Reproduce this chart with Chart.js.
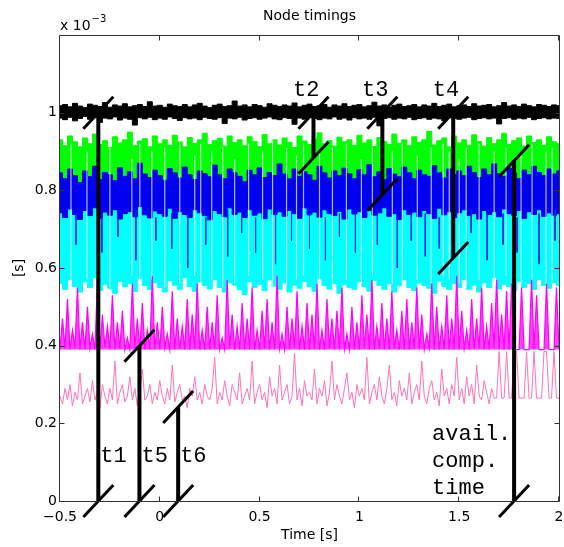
<!DOCTYPE html>
<html><head><meta charset="utf-8">
<script src="https://cdn.jsdelivr.net/npm/chart.js@4/dist/chart.umd.min.js"></script>
<style>html,body{margin:0;padding:0;background:#fff}canvas{display:block}</style>
</head><body>
<canvas id="c" width="564" height="547"></canvas>
<script>
// ---------- data (values in units of 1e-3 s) ----------
const T0 = -0.5;          // first sample time [s]
const DT_BAND = 0.025;    // sample spacing of band envelopes
const DT_LINE = 0.0125;   // sample spacing of the magenta / pink traces
const xTicks = [-0.5, 0, 0.5, 1, 1.5, 2];
const yTicks = [0, 0.2, 0.4, 0.6, 0.8, 1];

const blackHi = [1.018,1.021,1.015,1.024,1.017,1.013,1.022,1.019,1.016,1.026,
1.014,1.02,1.017,1.023,1.015,1.018,1.021,1.016,1.028,1.017,
1.019,1.014,1.022,1.018,1.016,1.021,1.015,1.02,1.024,1.017,
1.013,1.019,1.022,1.016,1.018,1.03,1.017,1.02,1.015,1.021,
1.018,1.014,1.023,1.019,1.016,1.02,1.017,1.025,1.015,1.019,
1.022,1.016,1.018,1.021,1.014,1.02,1.017,1.023,1.016,1.019,
1.021,1.015,1.018,1.027,1.017,1.02,1.014,1.019,1.022,1.016,
1.018,1.021,1.015,1.02,1.017,1.024,1.016,1.019,1.022,1.015,
1.018,1.02,1.016,1.023,1.017,1.019,1.021,1.015,1.018,1.026,
1.017,1.02,1.016,1.022,1.018,1.015,1.021,1.019,1.016,1.02,1.018];
const blackLo = [0.986,0.982,0.988,0.979,0.985,0.99,0.983,0.987,0.975,0.986,
0.984,0.989,0.981,0.986,0.983,0.968,0.987,0.984,0.988,0.982,
0.986,0.983,0.989,0.985,0.98,0.987,0.984,0.986,0.982,0.988,
0.985,0.983,0.987,0.972,0.986,0.984,0.988,0.981,0.985,0.987,
0.983,0.986,0.989,0.984,0.982,0.987,0.985,0.97,0.986,0.983,
0.988,0.985,0.982,0.986,0.984,0.989,0.983,0.986,0.981,0.987,
0.984,0.986,0.983,0.988,0.966,0.985,0.987,0.983,0.986,0.984,
0.988,0.982,0.985,0.987,0.983,0.986,0.984,0.979,0.987,0.985,
0.983,0.986,0.988,0.982,0.985,0.987,0.984,0.986,0.971,0.985,
0.987,0.983,0.986,0.984,0.988,0.982,0.985,0.987,0.984,0.986,0.985];
const greenHi = [0.93,0.915,0.94,0.925,0.912,0.935,0.92,0.945,0.918,0.928,
0.91,0.938,0.922,0.93,0.95,0.915,0.927,0.933,0.912,0.94,
0.92,0.93,0.916,0.942,0.925,0.912,0.936,0.921,0.93,0.947,
0.918,0.928,0.934,0.914,0.94,0.923,0.93,0.915,0.938,0.926,
0.912,0.944,0.92,0.93,0.917,0.935,0.924,0.91,0.94,0.927,
0.918,0.932,0.948,0.92,0.928,0.914,0.937,0.925,0.93,0.916,
0.942,0.922,0.93,0.913,0.936,0.926,0.918,0.945,0.921,0.93,
0.915,0.938,0.924,0.93,0.952,0.917,0.928,0.935,0.912,0.94,
0.922,0.93,0.916,0.943,0.926,0.914,0.936,0.92,0.93,0.947,
0.918,0.928,0.935,0.914,0.94,0.923,0.93,0.916,0.938,0.925,0.92];
const blueHi = [0.845,0.83,0.855,0.838,0.82,0.85,0.835,0.862,0.828,0.846,
0.84,0.825,0.858,0.836,0.848,0.83,0.87,0.842,0.833,0.852,
0.838,0.826,0.856,0.845,0.832,0.86,0.84,0.828,0.85,0.843,
0.835,0.865,0.84,0.83,0.855,0.845,0.836,0.822,0.852,0.84,
0.858,0.833,0.846,0.838,0.868,0.842,0.83,0.855,0.836,0.848,
0.84,0.826,0.862,0.845,0.832,0.85,0.838,0.857,0.843,0.83,
0.853,0.84,0.866,0.835,0.848,0.828,0.856,0.842,0.835,0.86,
0.845,0.83,0.852,0.84,0.836,0.864,0.845,0.832,0.855,0.84,
0.85,0.838,0.862,0.846,0.833,0.855,0.84,0.868,0.843,0.836,
0.857,0.845,0.83,0.852,0.84,0.862,0.846,0.838,0.855,0.842,0.85];
const blueLo = [0.742,0.73,0.752,0.738,0.725,0.748,0.735,0.755,0.728,0.744,
0.736,0.75,0.726,0.74,0.745,0.732,0.758,0.737,0.729,0.747,
0.74,0.733,0.754,0.728,0.745,0.738,0.73,0.75,0.742,0.735,
0.724,0.748,0.74,0.732,0.755,0.738,0.744,0.73,0.75,0.736,
0.742,0.727,0.752,0.738,0.745,0.733,0.748,0.74,0.728,0.755,
0.737,0.744,0.731,0.75,0.74,0.735,0.746,0.726,0.752,0.739,
0.745,0.73,0.748,0.736,0.742,0.755,0.733,0.74,0.725,0.75,
0.738,0.744,0.732,0.748,0.74,0.728,0.754,0.737,0.745,0.73,
0.742,0.75,0.735,0.74,0.726,0.748,0.738,0.745,0.732,0.752,
0.74,0.735,0.748,0.728,0.745,0.738,0.75,0.733,0.742,0.736,0.74];
const cyanLo = [0.56,0.545,0.57,0.552,0.538,0.565,0.55,0.575,0.542,0.558,
0.548,0.535,0.566,0.552,0.56,0.54,0.572,0.555,0.545,0.562,
0.55,0.538,0.568,0.556,0.545,0.575,0.552,0.54,0.564,0.555,
0.546,0.57,0.55,0.538,0.562,0.556,0.544,0.532,0.565,0.55,
0.558,0.542,0.57,0.553,0.545,0.562,0.538,0.556,0.548,0.566,
0.552,0.54,0.572,0.555,0.546,0.56,0.535,0.558,0.55,0.545,
0.565,0.552,0.54,0.568,0.555,0.545,0.56,0.538,0.554,0.57,
0.55,0.542,0.562,0.555,0.548,0.535,0.566,0.552,0.545,0.56,
0.55,0.57,0.545,0.556,0.538,0.562,0.55,0.575,0.546,0.558,
0.552,0.542,0.565,0.55,0.56,0.545,0.57,0.555,0.548,0.562,0.555];
const magenta = [0.39,0.47,0.392,0.52,0.39,0.44,0.395,0.55,0.39,0.46,0.39,0.5,0.393,0.43,0.39,0.57,0.39,0.48,0.396,0.45,
0.39,0.53,0.39,0.46,0.392,0.49,0.39,0.42,0.39,0.56,0.394,0.47,0.39,0.51,0.39,0.44,0.391,0.58,0.39,0.46,
0.39,0.5,0.395,0.43,0.39,0.54,0.39,0.47,0.392,0.45,0.39,0.52,0.39,0.48,0.393,0.56,0.39,0.44,0.39,0.5,
0.39,0.46,0.392,0.53,0.39,0.42,0.39,0.57,0.394,0.48,0.39,0.45,0.39,0.51,0.391,0.47,0.39,0.55,0.39,0.44,
0.39,0.49,0.393,0.52,0.39,0.46,0.39,0.58,0.392,0.43,0.39,0.5,0.39,0.47,0.395,0.54,0.39,0.45,0.39,0.51,
0.39,0.48,0.392,0.56,0.39,0.44,0.39,0.52,0.393,0.47,0.39,0.49,0.39,0.55,0.391,0.43,0.39,0.5,0.39,0.46,
0.39,0.53,0.394,0.48,0.39,0.57,0.39,0.45,0.392,0.51,0.39,0.47,0.39,0.54,0.393,0.44,0.39,0.49,0.39,0.52,
0.39,0.46,0.392,0.55,0.39,0.48,0.39,0.43,0.395,0.56,0.39,0.5,0.39,0.45,0.391,0.53,0.39,0.47,0.39,0.58,
0.39,0.49,0.393,0.44,0.39,0.52,0.39,0.47,0.392,0.55,0.39,0.45,0.39,0.51,0.394,0.57,0.39,0.48,0.39,0.54,
0.39,0.56,0.39,0.39,0.39,0.55,0.39,0.39,0.39,0.57,0.39,0.53,0.39,0.39,0.39,0.56,0.39,0.39,0.39,0.55,
0.39];
const pink = [0.27,0.25,0.29,0.26,0.3,0.245,0.28,0.26,0.33,0.25,0.27,0.29,0.255,0.31,0.26,0.28,0.24,0.3,0.27,0.25,
0.29,0.26,0.36,0.25,0.28,0.3,0.255,0.27,0.32,0.26,0.29,0.245,0.28,0.34,0.26,0.27,0.3,0.25,0.28,0.26,
0.31,0.27,0.25,0.29,0.26,0.35,0.255,0.28,0.3,0.26,0.27,0.24,0.29,0.27,0.32,0.26,0.28,0.25,0.3,0.27,
0.26,0.29,0.37,0.25,0.28,0.26,0.31,0.27,0.245,0.3,0.28,0.26,0.33,0.25,0.27,0.29,0.26,0.36,0.25,0.28,
0.3,0.26,0.28,0.24,0.32,0.27,0.29,0.25,0.35,0.26,0.28,0.3,0.25,0.27,0.38,0.26,0.29,0.245,0.31,0.27,
0.28,0.26,0.34,0.25,0.29,0.27,0.31,0.245,0.28,0.36,0.26,0.3,0.27,0.25,0.29,0.33,0.26,0.28,0.24,0.3,
0.27,0.29,0.26,0.37,0.25,0.28,0.3,0.26,0.32,0.27,0.25,0.29,0.35,0.26,0.28,0.245,0.31,0.27,0.29,0.26,
0.33,0.25,0.28,0.3,0.26,0.36,0.27,0.25,0.29,0.31,0.26,0.28,0.245,0.34,0.27,0.29,0.25,0.3,0.27,0.37,
0.26,0.29,0.25,0.32,0.27,0.3,0.25,0.35,0.27,0.26,0.31,0.28,0.25,0.29,0.265,0.265,0.385,0.265,0.265,0.385,
0.265,0.265,0.385,0.385,0.265,0.265,0.265,0.385,0.265,0.265,0.385,0.265,0.265,0.265,0.385,0.385,0.265,0.265,0.385,0.265,
0.265];
// light vertical gaps through the green/blue/cyan traces
const streakTimes = [-0.445,-0.365,-0.25,-0.14,-0.1,-0.04,0.025,0.1,0.175,0.205,0.26,0.315,0.375,0.445,0.515,0.565,0.635,0.685,0.72,0.8,
0.865,0.935,1.01,1.065,1.165,1.215,1.29,1.36,1.42,1.45,1.5,1.535,1.6,1.675,1.735,1.81,1.865,1.935,1.965];
const streakTop = [0.92,0.9,0.91,0.88,0.92,0.9,0.91,0.93,0.89,0.92,0.9,0.91,0.88,0.92,0.9,0.93,0.91,0.89,0.92,0.9,
0.91,0.92,0.88,0.91,0.9,0.92,0.89,0.91,0.92,0.9,0.88,0.91,0.92,0.9,0.91,0.89,0.92,0.9,0.91];
const streakBottom = [0.56,0.57,0.55,0.58,0.56,0.57,0.55,0.56,0.58,0.56,0.57,0.55,0.56,0.58,0.57,0.55,0.56,0.57,0.58,0.56,
0.55,0.57,0.56,0.58,0.56,0.55,0.57,0.56,0.58,0.57,0.56,0.55,0.57,0.56,0.58,0.56,0.57,0.55,0.56];
// blue trace dips reaching down into the cyan band
const blueDipTimes = [-0.42,-0.29,-0.21,-0.12,-0.02,0.06,0.14,0.23,0.34,0.41,0.48,0.58,0.66,0.75,0.83,0.9,0.98,1.09,1.19,1.26,1.33,1.4,1.56,1.64,1.72,1.79,1.9,1.98];
const blueDipFrom = [0.74,0.73,0.74,0.75,0.73,0.74,0.74,0.73,0.75,0.74,0.73,0.74,0.75,0.74,0.73,0.74,0.74,0.75,0.73,0.74,0.74,0.73,0.75,0.74,0.74,0.73,0.74,0.75];
const blueDipTo = [0.66,0.64,0.68,0.62,0.67,0.65,0.6,0.66,0.63,0.69,0.64,0.61,0.67,0.65,0.62,0.68,0.64,0.66,0.6,0.67,0.63,0.65,0.69,0.62,0.66,0.64,0.61,0.67];
// time markers
const markerLabels = ['t1','t5','t6','t2','t3','t4','avail.|comp.|time'];
const markerTimes = [-0.308,-0.102,0.092,0.77,1.115,1.47,1.775];
const markerFrom = [0,0,0,1.0,1.0,1.0,0];
const markerTo = [1.0,0.4,0.242,0.884,0.789,0.626,0.876];

// ---------- helpers ----------
const series = (arr, dt) => arr.map((v, i) => ({x: T0 + i * dt, y: v}));
const segs = (xs, a, b) => xs.flatMap((t, i) => [{x: t, y: a[i]}, {x: t, y: b[i]}, {x: t, y: null}]);

const labelStyle = {t1:'br', t5:'br', t6:'br', t2:'tl', t3:'tl', t4:'tl'};
const deco = {
  id: 'deco',
  afterDatasetsDraw(chart) {
    const {ctx, chartArea: a, scales: {x, y}} = chart;
    ctx.save();
    ctx.strokeStyle = '#000'; ctx.lineWidth = 3; ctx.lineCap = 'butt';
    markerTimes.forEach((t, i) => {
      const px = x.getPixelForValue(t);
      [markerFrom[i], markerTo[i]].forEach(v => {
        const py = y.getPixelForValue(v);
        ctx.beginPath(); ctx.moveTo(px - 15, py + 16); ctx.lineTo(px + 15, py - 16); ctx.stroke();
      });
    });
    ctx.fillStyle = '#000';
    ctx.font = '22px "Liberation Mono", monospace';
    ctx.textBaseline = 'alphabetic';
    markerLabels.forEach((lab, i) => {
      const px = x.getPixelForValue(markerTimes[i]);
      const st = labelStyle[lab];
      if (st === 'br') {
        ctx.textAlign = 'left';
        ctx.fillText(lab, px + 2, a.bottom - 39);
      } else if (st === 'tl') {
        const py = y.getPixelForValue(Math.max(markerFrom[i], markerTo[i]));
        ctx.textAlign = 'right';
        ctx.fillText(lab, px + 6, py - 17);
      } else {
        ctx.textAlign = 'left';
        lab.split('|').forEach((ln, k) => ctx.fillText(ln, px - 82, a.bottom - 61 + k * 27));
      }
    });
    ctx.restore();
  },
  afterDraw(chart) {
    const {ctx, chartArea: a, scales: {x, y}} = chart;
    ctx.save();
    ctx.strokeStyle = '#333'; ctx.lineWidth = 1;
    const L = a.left - 0.5, R = a.right + 0.5, T = a.top + 0.5, B = a.bottom + 0.5;
    ctx.beginPath();
    ctx.moveTo(L, T); ctx.lineTo(R, T); ctx.lineTo(R, B); ctx.lineTo(L, B); ctx.closePath();
    xTicks.forEach(v => {
      const px = Math.round(x.getPixelForValue(v)) - 0.5;
      ctx.moveTo(px, B); ctx.lineTo(px, B - 5);
      ctx.moveTo(px, T); ctx.lineTo(px, T + 5);
    });
    yTicks.forEach(v => {
      const py = Math.round(y.getPixelForValue(v)) + 0.5;
      ctx.moveTo(L, py); ctx.lineTo(L + 5, py);
      ctx.moveTo(R, py); ctx.lineTo(R - 5, py);
    });
    ctx.stroke();
    ctx.fillStyle = '#000';
    ctx.font = '14px "DejaVu Sans"';
    ctx.textAlign = 'center'; ctx.textBaseline = 'alphabetic';
    ctx.fillText('Node timings', (a.left + a.right) / 2, 20);
    ctx.textAlign = 'left';
    ctx.fillText('x 10', a.left, 30);
    const w = ctx.measureText('x 10').width;
    ctx.font = '10px "DejaVu Sans"';
    ctx.fillText('\u22123', a.left + w + 1, 22);
    ctx.restore();
  }
};

const line = (data, color, order, extra) => Object.assign({
  data, borderColor: color, backgroundColor: color, borderWidth: 1, pointRadius: 0,
  fill: false, order, spanGaps: false, tension: 0
}, extra || {});
const step = {stepped: 'middle'};

const datasets = [
  line(segs(markerTimes, markerFrom, markerTo), '#000', 0, {borderWidth: 4, borderCapStyle: 'butt'}), // 0
  line(series(blackLo, DT_BAND), '#000', 1, step),                                   // 1
  line(series(blackHi, DT_BAND), '#000', 1, {stepped: 'middle', fill: 1}),           // 2
  line(series(pink, DT_LINE), 'rgb(255,115,185)', 2),                                // 3
  line(series(magenta, DT_LINE), '#ff00ff', 3, {borderWidth: 1.2,
        backgroundColor: 'rgba(255,0,255,0.75)', fill: {value: 0.39}}),             // 4
  line(segs(streakTimes, streakBottom, streakTop), 'rgba(255,255,255,0.7)', 4, {borderWidth: 1.2}), // 5
  line(series(blueLo, DT_BAND), '#0000f0', 5, step),                                 // 6
  line(series(blueHi, DT_BAND), '#0000f0', 5, {stepped: 'middle', fill: 6}),         // 7
  line(series(greenHi, DT_BAND), '#00ff00', 6, {stepped: 'middle', fill: {value: 0.8}}), // 8
  line(series(cyanLo, DT_BAND), '#00ffff', 7, {stepped: 'middle', fill: {value: 0.78}}), // 9
  line(segs(blueDipTimes, blueDipFrom, blueDipTo), '#2020e0', 4.5, {borderWidth: 1})    // 10
];

const tickFont = {family: 'DejaVu Sans', size: 14};
new Chart(document.getElementById('c'), {
  type: 'line',
  data: {datasets},
  plugins: [deco],
  options: {
    responsive: false, animation: false, devicePixelRatio: 1,
    layout: {padding: {top: 35, right: 5, left: 0, bottom: 0}},
    plugins: {legend: {display: false}, tooltip: {enabled: false}, title: {display: false}},
    elements: {point: {radius: 0}},
    scales: {
      x: {
        type: 'linear', min: -0.5, max: 2, position: 'bottom',
        grid: {display: false, drawTicks: false}, border: {display: false},
        afterBuildTicks: s => { s.ticks = xTicks.map(v => ({value: v})); },
        afterFit: s => { s.height = 46; s.paddingLeft = 0; s.paddingRight = 0; },
        ticks: {font: tickFont, color: '#000', padding: 8, maxRotation: 0, autoSkip: false,
          callback: v => String(v).replace('-', '\u2212')},
        title: {display: true, text: 'Time [s]', font: tickFont, color: '#000', padding: {top: 0, bottom: 3}}
      },
      y: {
        type: 'linear', min: 0, max: 1.2,
        grid: {display: false, drawTicks: false}, border: {display: false},
        afterBuildTicks: s => { s.ticks = yTicks.map(v => ({value: v})); },
        afterFit: s => { s.width = 60; s.paddingTop = 0; s.paddingBottom = 0; },
        ticks: {font: tickFont, color: '#000', padding: 3, autoSkip: false,
          callback: v => String(Math.round(v * 10) / 10)},
        title: {display: true, text: '[s]', font: tickFont, color: '#000', padding: {top: 11, bottom: 0}}
      }
    }
  }
});
</script>
</body></html>
